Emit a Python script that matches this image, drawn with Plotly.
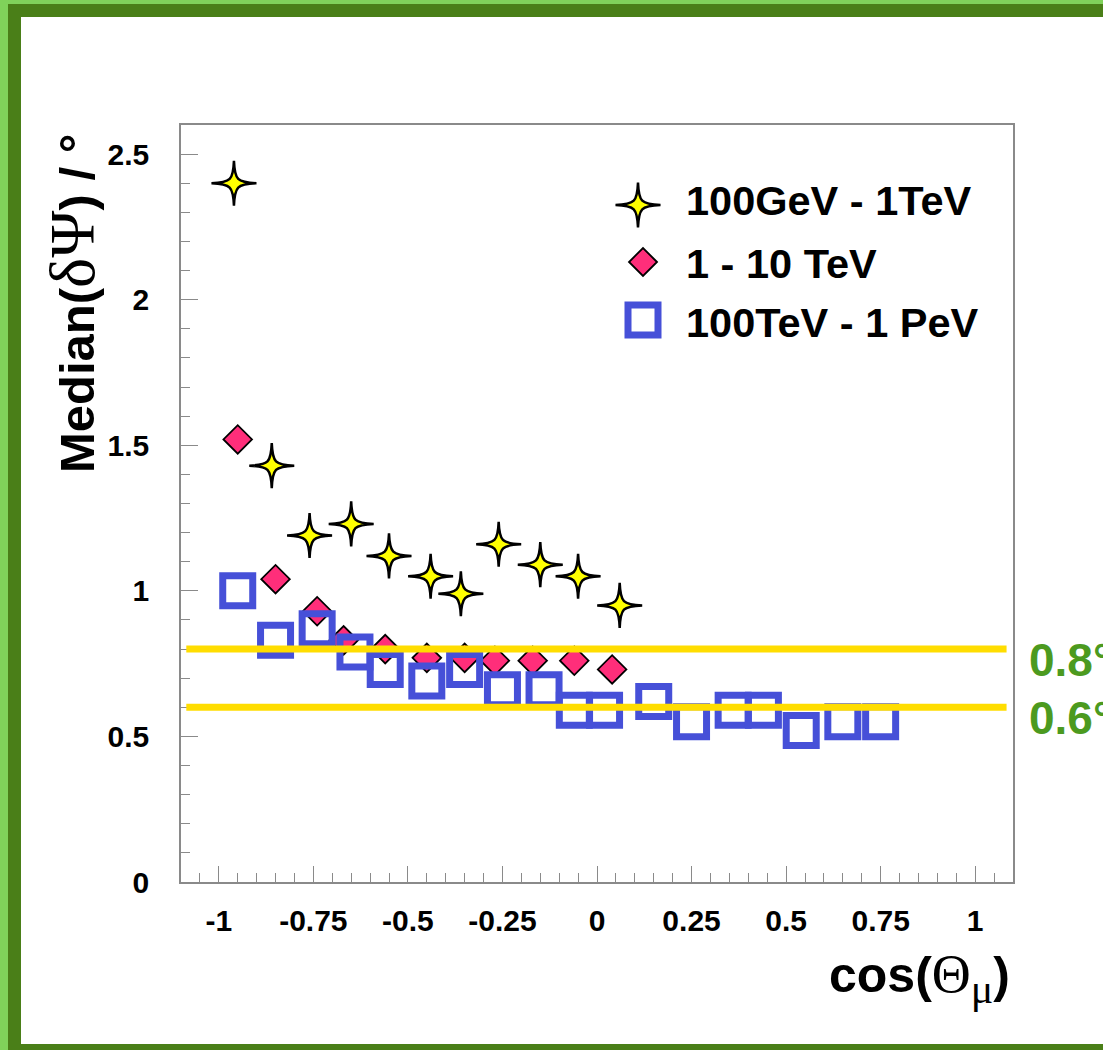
import plotly.graph_objects as go

# ---- data: median angular resolution vs. cos(zenith) per energy band ----
star_x = [-0.96, -0.86, -0.76, -0.65, -0.55, -0.44, -0.36, -0.26, -0.15, -0.05, 0.06]
star_y = [2.40, 1.43, 1.19, 1.23, 1.12, 1.05, 0.99, 1.16, 1.09, 1.05, 0.95]

diam_x = [-0.95, -0.85, -0.74, -0.67, -0.56, -0.45, -0.35, -0.27, -0.17, -0.06, 0.04]
diam_y = [1.52, 1.04, 0.93, 0.83, 0.80, 0.77, 0.77, 0.76, 0.76, 0.76, 0.73]

sq_x = [-0.95, -0.85, -0.74, -0.64, -0.56, -0.45, -0.35, -0.25, -0.14, -0.06, 0.02,
        0.15, 0.25, 0.36, 0.44, 0.54, 0.65, 0.75]
sq_y = [1.00, 0.83, 0.87, 0.79, 0.73, 0.69, 0.73, 0.66, 0.66, 0.59, 0.59,
        0.62, 0.55, 0.59, 0.59, 0.52, 0.55, 0.55]

series_names = ["100GeV - 1TeV", "1 - 10 TeV", "100TeV - 1 PeV"]
ref_levels = [0.8, 0.6]
ref_labels = ["0.8°", "0.6°"]

x_ticks = [-1, -0.75, -0.5, -0.25, 0, 0.25, 0.5, 0.75, 1]
x_ticklabels = ["-1", "-0.75", "-0.5", "-0.25", "0", "0.25", "0.5", "0.75", "1"]
y_ticks = [0, 0.5, 1, 1.5, 2, 2.5]
y_ticklabels = ["0", "0.5", "1", "1.5", "2", "2.5"]

# ---- page geometry ----
W, H = 1103, 1050
L, R, T, B = 181, 90, 125, 168
PW, PH = W - L - R, H - T - B


def px(X):
    return (X - L) / PW


def py(Y):
    return (H - B - Y) / PH


YELLOW = "#FFFF00"
PINK = "#FF2E7A"
BLUE = "#4650D8"
GOLD = "#FFDD00"
GREEN_TXT = "#4C9A1F"
LIGHT_GREEN = "#80D25A"
DARK_GREEN = "#4A7F18"
AXIS_GREY = "#8a8a8a"
SANS = "Liberation Sans, Arial, sans-serif"
SERIF = "Liberation Serif, Times New Roman, serif"


def sparkle_path(r):
    a, b = 0.14 * r, 0.035 * r
    return (f"M {r},0 C {a},{b} {b},{a} 0,{r} "
            f"C {-b},{a} {-a},{b} {-r},0 "
            f"C {-a},{-b} {-b},{-a} 0,{-r} "
            f"C {b},{-a} {a},{-b} {r},0 Z")


STAR = sparkle_path(22.5)

fig = go.Figure()

fig.add_trace(go.Scatter(
    x=diam_x, y=diam_y, mode="markers", name=series_names[1], showlegend=False,
    marker=dict(symbol="diamond", size=22, color=PINK,
                line=dict(color="black", width=1.8)),
    cliponaxis=False,
))
fig.add_trace(go.Scatter(
    x=sq_x, y=sq_y, mode="markers", name=series_names[2], showlegend=False,
    marker=dict(symbol="square-open", size=30, color=BLUE,
                line=dict(color=BLUE, width=7)),
    cliponaxis=False,
))

shapes = []
# frame around the page
shapes.append(dict(type="rect", xref="paper", yref="paper",
                   x0=px(8), x1=px(W + 20), y0=py(4), y1=py(H + 20),
                   fillcolor=DARK_GREEN, line=dict(width=0), layer="below"))
shapes.append(dict(type="rect", xref="paper", yref="paper",
                   x0=px(21), x1=px(W + 20), y0=py(17), y1=py(1044),
                   fillcolor="white", line=dict(width=0), layer="below"))

# four-pointed star markers for the lowest energy band
for xv, yv in zip(star_x, star_y):
    shapes.append(dict(type="path", xref="x", yref="y",
                       xsizemode="pixel", ysizemode="pixel",
                       xanchor=xv, yanchor=yv, path=STAR,
                       fillcolor=YELLOW, line=dict(color="black", width=2.5),
                       layer="above"))

# reference resolution levels
for lv in ref_levels:
    shapes.append(dict(type="line", xref="x", yref="y",
                       x0=-1.086, x1=1.083, y0=lv, y1=lv,
                       line=dict(color=GOLD, width=7), layer="above"))

# legend swatches
leg_rows = [200, 263, 322]
shapes.append(dict(type="path", xref="paper", yref="paper",
                   xsizemode="pixel", ysizemode="pixel",
                   xanchor=px(638), yanchor=py(205), path=STAR,
                   fillcolor=YELLOW, line=dict(color="black", width=2.5)))
shapes.append(dict(type="path", xref="paper", yref="paper",
                   xsizemode="pixel", ysizemode="pixel",
                   xanchor=px(643), yanchor=py(262),
                   path="M 14,0 L 0,14 L -14,0 L 0,-14 Z",
                   fillcolor=PINK, line=dict(color="black", width=1.8)))
shapes.append(dict(type="path", xref="paper", yref="paper",
                   xsizemode="pixel", ysizemode="pixel",
                   xanchor=px(643), yanchor=py(320),
                   path="M -15,-15 L 15,-15 L 15,15 L -15,15 Z",
                   fillcolor="rgba(0,0,0,0)", line=dict(color=BLUE, width=7)))

annotations = []
for name, row in zip(series_names, leg_rows):
    annotations.append(dict(text=name, xref="paper", yref="paper",
                            x=px(684), y=py(row), xanchor="left", yanchor="middle",
                            showarrow=False,
                            font=dict(family=SANS, size=41.5, color="black", weight="bold")))

for lv, lab in zip(ref_levels, ref_labels):
    annotations.append(dict(text=lab, xref="paper", yref="y",
                            x=px(1027), y=lv, yshift=-11,
                            xanchor="left", yanchor="middle", showarrow=False,
                            font=dict(family=SANS, size=46, color=GREEN_TXT, weight="bold")))

# axis titles
annotations.append(dict(
    text=("Median(<span style='font-family:Liberation Serif;font-weight:normal;"
          "font-size:64px'>δΨ</span>) / °"),
    xref="paper", yref="paper", x=px(72), y=py(304),
    xanchor="center", yanchor="middle", textangle=-90, showarrow=False,
    font=dict(family=SANS, size=49, color="black", weight="bold")))
annotations.append(dict(
    text=("cos(<span style='font-family:Liberation Serif;font-weight:normal;"
          "font-size:54px'>Θ</span><sub><span style='font-family:Liberation Serif;"
          "font-weight:normal;font-size:42px'>μ</span></sub>)"),
    xref="paper", yref="paper", x=px(1012), y=py(978),
    xanchor="right", yanchor="middle", showarrow=False,
    font=dict(family=SANS, size=50, color="black", weight="bold")))

fig.update_layout(
    width=W, height=H,
    margin=dict(l=L, r=R, t=T, b=B, pad=0),
    paper_bgcolor=LIGHT_GREEN, plot_bgcolor="white",
    showlegend=False,
    shapes=shapes, annotations=annotations,
    xaxis=dict(
        range=[-1.1, 1.1], showgrid=False, zeroline=False,
        showline=True, linecolor=AXIS_GREY, linewidth=1.5, mirror=True,
        ticks="inside", ticklen=16, tickwidth=1.3, tickcolor=AXIS_GREY,
        tickmode="array", tickvals=x_ticks, ticktext=x_ticklabels,
        ticklabelstandoff=11,
        tickfont=dict(family=SANS, size=30, color="black", weight="bold"),
        minor=dict(ticks="inside", ticklen=9, tickwidth=1.2, tickcolor=AXIS_GREY,
                   dtick=0.05, tick0=0, showgrid=False),
    ),
    yaxis=dict(
        range=[0, 2.6], showgrid=False, zeroline=False,
        showline=True, linecolor=AXIS_GREY, linewidth=1.5, mirror=True,
        ticks="inside", ticklen=17, tickwidth=1.3, tickcolor=AXIS_GREY,
        tickmode="array", tickvals=y_ticks, ticktext=y_ticklabels,
        ticklabelstandoff=24,
        tickfont=dict(family=SANS, size=30, color="black", weight="bold"),
        minor=dict(ticks="inside", ticklen=9, tickwidth=1.2, tickcolor=AXIS_GREY,
                   dtick=0.1, tick0=0, showgrid=False),
    ),
)

fig.write_html("out.html")
